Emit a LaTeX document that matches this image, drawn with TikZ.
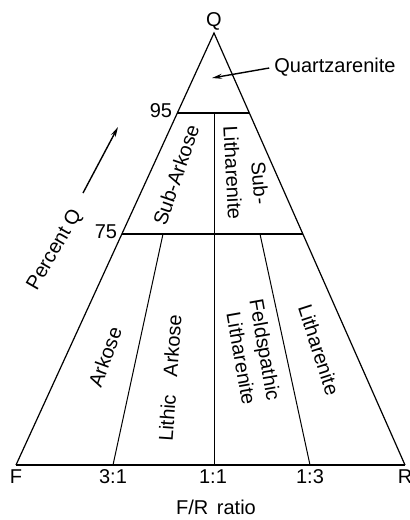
\documentclass[tikz,border=0pt]{standalone}
\usepackage{fontspec}
\setmainfont{Liberation Sans}
\usetikzlibrary{arrows.meta,calc}
\tikzset{
  lab/.style={font=\fontsize{20}{25}\selectfont, inner sep=0pt, text=black},
  side/.style={line width=1.2pt},
  heavy/.style={line width=2.4pt},
  inner/.style={line width=1pt},
  pointer/.style={line width=1.4pt, -{Stealth[length=10pt,width=5pt]}}
}
\begin{document}
\begin{tikzpicture}[x=1pt,y=-1pt]
\useasboundingbox[fill=white] (0,0) rectangle (410,520);
% corners
\coordinate (Q) at (214,33);
\coordinate (F) at (16,465);
\coordinate (R) at (405,465);
\coordinate (b31) at (113,465);
\coordinate (b11) at (214,465);
\coordinate (b13) at (310,465);
\coordinate (l95) at ($(Q)!0.185!(F)$);
\coordinate (r95) at ($(Q)!0.185!(R)$);
\coordinate (l75) at ($(Q)!0.465!(F)$);
\coordinate (r75) at ($(Q)!0.465!(R)$);
\coordinate (m95) at (214,113);
\coordinate (a31) at (163,234);
\coordinate (a13) at (260,234);
% outline
\draw[side] (F) -- (Q) -- (R);
\draw[heavy] (F) -- (R);
\draw[heavy] (l95) -- (r95);
\draw[heavy] (l75) -- (r75);
\draw[inner] (m95) -- (b11);
\draw[inner] (a31) -- (b31);
\draw[inner] (a13) -- (b13);
% labels
\node[lab] (nQ) at (214,21) {Q};
\node[lab] (nqa) at (335,67) {Quartzarenite};
\coordinate (qtip) at (212,78);
\path (nqa.west) ++(-5,1) coordinate (qstart);
\draw[pointer] (qstart) -- (qtip);
\node[lab] (n95) at (161,111) {95};
\node[lab] (n75) at (106,232) {75};
\node[rotate=60, lab] (npq) at (55,250) {Percent Q};
\coordinate (pqs) at (83,193);
\coordinate (pqe) at (118,127);
\draw[pointer] (pqs) -- (pqe);
\node[rotate=71, lab] (nsa) at (176,175) {Sub-Arkose};
\node[rotate=-87, lab] (nsl) at (233,173) {Litharenite};
\node[rotate=-85, lab] (nsub) at (260,183) {Sub-};
\node[rotate=70, lab] (nark) at (105,357) {Arkose};
\node[rotate=86, lab] (nla) at (170,378) {Lithic\hspace{18pt}Arkose};
\node[rotate=-80, lab, align=right] (nfl) at (253,352) {Feldspathic\\Litharenite};
\node[rotate=-72, lab] (nlit) at (319,350) {Litharenite};
\node[lab] (tF) at (16,477) {F};
\node[lab] (t31) at (113,477) {3:1};
\node[lab] (t11) at (213,477) {1:1};
\node[lab] (t13) at (310,477) {1:3};
\node[lab] (tR) at (405,477) {R};
\node[lab] (tfr) at (216,507) {F/R\hspace{3pt} ratio};
\end{tikzpicture}
\end{document}
